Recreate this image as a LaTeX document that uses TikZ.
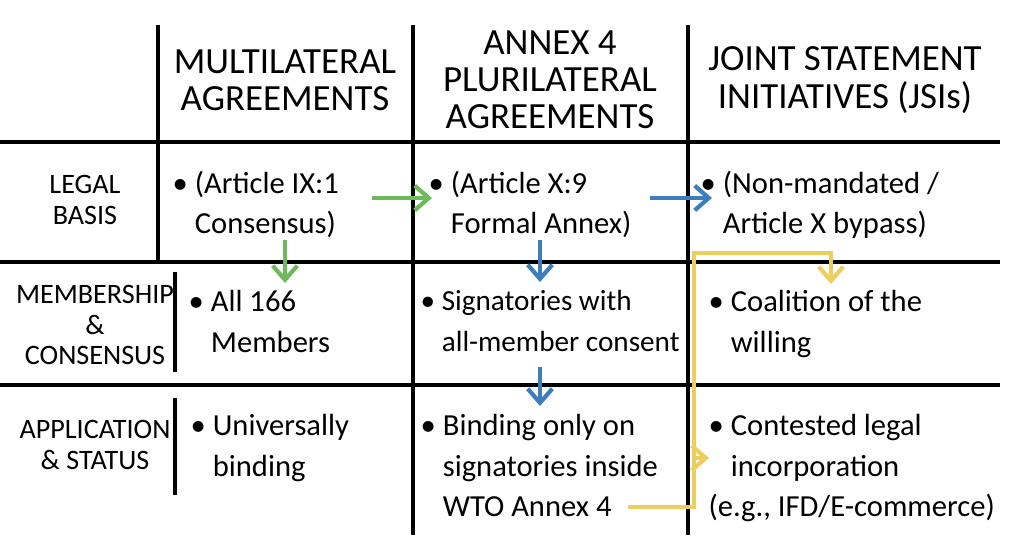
\documentclass[tikz,border=0pt]{standalone}
\usepackage{fontspec}
\setmainfont{Carlito}
\usetikzlibrary{positioning,arrows.meta}
\definecolor{arrgreen}{RGB}{110,185,90}
\definecolor{arrblue}{RGB}{60,125,190}
\definecolor{arryellow}{RGB}{238,205,95}
\tikzset{
  grid/.style={line width=1.3pt,black},
  hdr/.style={align=center,font=\fontsize{10.5}{10.6}\selectfont,inner sep=0pt},
  rowlab/.style={align=center,font=\fontsize{8}{8.6}\selectfont,inner sep=0pt},
  cell/.style={anchor=north west,align=left,font=\fontsize{8.7}{11.4}\selectfont,inner sep=0pt},
  arr/.style={line width=1.2pt,-{Straight Barb[length=4pt,width=7pt]}}
}
\begin{document}
\begin{tikzpicture}[x=0.01cm,y=-0.01cm]
\useasboundingbox (0,0) rectangle (1024,559);
% grid
\draw[grid] (158,25) -- (158,262);
\draw[grid] (413,25) -- (413,535);
\draw[grid] (688,25) -- (688,535);
\draw[grid] (0,142) -- (1000,142);
\draw[grid] (0,262) -- (1000,262);
\draw[grid] (0,385) -- (1000,385);
\draw[grid] (175,272) -- (175,372);
\draw[grid] (175,398) -- (175,495);

% headers
\node[hdr] (hmulti) at (285,80) {MULTILATERAL\\AGREEMENTS};
\node[hdr] (hannex) at (550,80) {ANNEX 4\\PLURILATERAL\\AGREEMENTS};
\node[hdr] (hjsi) at (845,80) {JOINT STATEMENT\\INITIATIVES (JSIs)};

% row labels
\node[rowlab] (rlegal) at (85,200) {LEGAL\\BASIS};
\node[rowlab] (rmember) at (95,325) {MEMBERSHIP\\\&\\CONSENSUS};
\node[rowlab] (rapp) at (95,445) {APPLICATION\\\& STATUS};

% cells
\node[cell] (legmulti) at (172,170) {• (Article IX:1\\\phantom{• }Consensus)};
\node[cell] (legannex) at (428,170) {• (Article X:9\\\phantom{• }Formal Annex)};
\node[cell] (legjsi) at (700,170) {• (Non-mandated /\\\phantom{• }Article X bypass)};
\node[cell] (memmulti) at (188,290) {• All 166\\\phantom{• }Members};
\node[cell,font=\fontsize{8.3}{11.4}\selectfont] (memannex) at (420,290) {• Signatories with\\\phantom{• }all-member consent};
\node[cell] (memjsi) at (708,290) {• Coalition of the\\\phantom{• }willing};
\node[cell] (appmulti) at (190,414) {• Universally\\\phantom{• }binding};
\node[cell] (appannex) at (420,414) {• Binding only on\\\phantom{• }signatories inside\\\phantom{• }WTO Annex 4};
\node[cell] (appjsi) at (708,414) {• Contested legal\\\phantom{• }incorporation\\(e.g., IFD/E-commerce)};

% arrows
\coordinate (g1a) at (372,198); \coordinate (g1b) at (432,198);
\coordinate (g2a) at (285,240); \coordinate (g2b) at (285,283);
\coordinate (b1a) at (650,198); \coordinate (b1b) at (712,198);
\coordinate (b2a) at (540,240); \coordinate (b2b) at (540,282);
\coordinate (b3a) at (540,367); \coordinate (b3b) at (540,406);
\coordinate (y1) at (628,507); \coordinate (y2) at (694,507);
\coordinate (y3) at (694,253); \coordinate (y4) at (831,253);
\coordinate (y5) at (831,284);
\coordinate (y6) at (694,458); \coordinate (y7) at (709,458);
\draw[arr,arrgreen] (g1a) -- (g1b);
\draw[arr,arrgreen] (g2a) -- (g2b);
\draw[arr,arrblue] (b1a) -- (b1b);
\draw[arr,arrblue] (b2a) -- (b2b);
\draw[arr,arrblue] (b3a) -- (b3b);
\draw[arr,arryellow] (y1) -- (y2) -- (y3) -- (y4) -- (y5);
\draw[arr,arryellow] (y6) -- (y7);
\end{tikzpicture}
\end{document}
